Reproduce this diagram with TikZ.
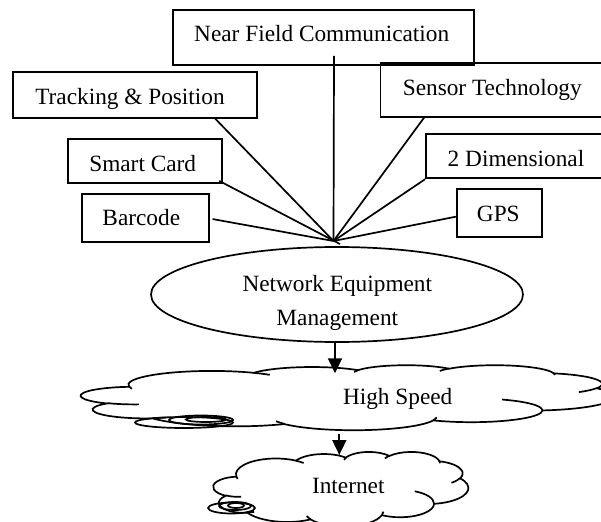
\documentclass[tikz,border=0pt]{standalone}
\usepackage{fontspec}
\setmainfont{Liberation Serif}
\usetikzlibrary{shapes.geometric,arrows.meta}
\newcommand\fs{\fontsize{23.3}{28}\selectfont}
\newcommand\bt[3]{\hspace*{#1pt}\raisebox{#2pt}{#3}}
\newcommand\wcarc[4]{arc[start angle={-atan2(#1*sin(#3),#2*cos(#3))},delta angle={-mod(atan2(#1*sin(#3+#4),#2*cos(#3+#4))-atan2(#1*sin(#3),#2*cos(#3))+720,360)},x radius={#1*\cwu*1pt},y radius={#2*\chu*1pt}]}
\newcommand\wordcloud[4]{%
 \pgfmathsetmacro\cwu{#3/432}\pgfmathsetmacro\chu{#4/432}%
 \begin{scope}[shift={(#1,#2)},x=\cwu pt,y=-\chu pt]
  \draw[ln] (39.00,143.70) \wcarc{67.53}{91.90}{-190.4875}{123.7805} \wcarc{53.33}{72.67}{-144.1024}{89.9452} \wcarc{43.65}{59.45}{-145.8079}{99.7230} \wcarc{48.57}{65.95}{-130.9861}{117.2417} \wcarc{53.33}{72.73}{-78.7089}{109.0269} \wcarc{67.75}{92.20}{-46.2673}{130.2690} \wcarc{57.85}{78.67}{0.6250}{114.0333} \wcarc{67.52}{92.15}{22.4516}{115.1726} \wcarc{77.20}{105.43}{66.2426}{75.7110} \wcarc{43.60}{59.18}{-274.9421}{146.7356} \wcarc{43.45}{59.45}{-246.8285}{152.5189} -- cycle;
  \draw[ln] (46.93,261.77) \wcarc{43.45}{59.45}{86.7420}{26.4295}
     (69.28,348.99) \wcarc{43.60}{59.18}{73.6105}{11.4475}
     (164.78,390.90) \wcarc{67.52}{92.15}{137.6242}{14.0811}
     (288.27,347.51) \wcarc{67.52}{92.15}{6.4533}{15.9984}
     (341.29,229.54) \wcarc{57.85}{78.67}{-70.2924}{70.9174}
     (417.98,153.54) \wcarc{53.33}{72.73}{30.3180}{27.7515}
     (383.24,54.26) \wcarc{48.57}{65.95}{-13.7443}{14.8589}
     (290.78,39.52) \wcarc{48.57}{65.95}{-149.1815}{18.1954}
     (221.41,47.20) \wcarc{43.65}{59.45}{-163.4943}{17.6864}
     (140.00,51.92) \wcarc{67.53}{91.90}{-66.7070}{12.3194}
     (41.27,157.89) \wcarc{67.53}{91.90}{157.6544}{11.8582};
 \end{scope}}
\tikzset{
 bx/.style={draw, line width=1.8pt, inner sep=0pt, text height=16pt, text depth=0pt, font=\fs},
 ln/.style={line width=1.7pt},
 arr/.style={line width=1.8pt, -{Triangle[length=15pt,width=14pt]}},
 txt/.style={inner sep=0pt, font=\fs}}
\begin{document}
\begin{tikzpicture}[x=1pt,y=-1pt]
\useasboundingbox (0,0) rectangle (601,521);
\clip (0,0) rectangle (601,521);
% boxes
\node[bx, minimum width=301.6pt, minimum height=55pt] (nfc) at (323.5,37.5) {\bt{-3.6}{3.8}{Near Field Communication}};
\node[bx, minimum width=243.4pt, minimum height=45.5pt] (track) at (135,95) {\bt{-10}{-1.3}{Tracking \& Position}};
\node[bx, minimum width=225.5pt, minimum height=53.4pt] (sensor) at (493.25,90) {\bt{-2}{2}{Sensor Technology}};
\node[bx, minimum width=153.4pt, minimum height=43.4pt] (smart) at (145,161) {\bt{-4.6}{-2}{Smart Card}};
\node[bx, minimum width=180pt, minimum height=44.3pt] (dim) at (516,156.15) {\bt{0}{-2.5}{2 Dimensional}};
\node[bx, minimum width=127.6pt, minimum height=47.7pt] (bar) at (145.5,217.85) {\bt{-8.4}{0}{Barcode}};
\node[bx, minimum width=85.6pt, minimum height=47.4pt] (gps) at (499.5,213) {\bt{-2.4}{-0.7}{GPS}};
% hub
\coordinate (hub) at (333.5,241);
\coordinate (hubtick) at (340,244);
\draw[ln] ([xshift=10.5pt,yshift=10pt]nfc.south) -- (hub);
\draw[ln] ([xshift=-42.4pt]track.south east) -- (hub);
\draw[ln] ([xshift=-3.4pt,yshift=2.7pt]smart.south east) -- (hubtick);
\draw[ln] ([xshift=2.4pt,yshift=-1.2pt]bar.east) -- (hub);
\draw[ln] ([xshift=44.5pt]sensor.south west) -- (hub);
\draw[ln] (dim.south west) -- (hub);
\draw[ln] ([yshift=-3.7pt]gps.west) -- (hub);
% ellipse
\node[draw, ellipse, line width=1.7pt, minimum width=372pt, minimum height=95pt] (nem) at (337,294.5) {};
\node[txt, anchor=base] (nem1) at (337.3,291.7) {Network Equipment};
\node[txt, anchor=base] (nem2) at (337.3,325) {Management};
% clouds
\wordcloud{81}{365}{533}{65}
\wordcloud{213.3}{451.7}{255}{74.5}
\node[txt, anchor=base] (hs) at (397.7,404.3) {High Speed};
\node[txt, anchor=base] (inet) at (348.3,493.3) {Internet};
% callout bubbles
\draw[ln] (184,422.5) ellipse [x radius=49pt, y radius=5.5pt];
\draw[ln] (201,420) ellipse [x radius=32pt, y radius=4.5pt];
\draw[ln] (206,419.5) ellipse [x radius=20pt, y radius=2.5pt];
\draw[ln] (231.5,508) ellipse [x radius=23.5pt, y radius=5.5pt];
\draw[ln] (235,506) ellipse [x radius=16pt, y radius=4pt];
\draw[ln] (236,505.5) ellipse [x radius=8pt, y radius=2.5pt];
% arrows
\coordinate (hstop) at (335,373.3);
\coordinate (hsbot) at (339.3,434);
\coordinate (intop) at (339.3,455);
\draw[arr] ([xshift=-2pt]nem.south) -- (hstop);
\draw[arr] (hsbot) -- (intop);
\end{tikzpicture}
\end{document}
